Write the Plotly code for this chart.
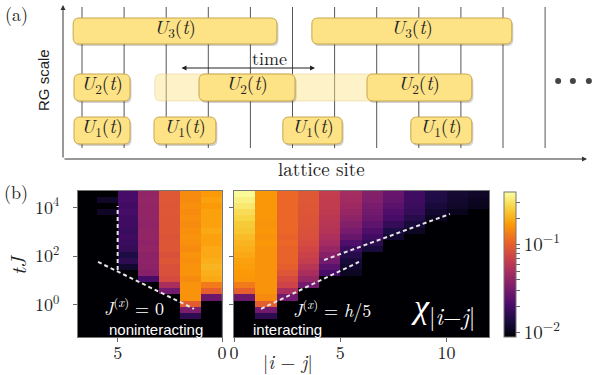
import numpy as np
import plotly.graph_objects as go

# ---------------- panel (b) data ----------------
B = 0.005  # below colour floor (black)
LOG_TJ = [-1.2, -0.95, -0.7, -0.45, -0.2, 0.05, 0.3, 0.55, 0.8, 1.05, 1.3, 1.55,
          1.8, 2.05, 2.3, 2.55, 2.8, 3.05, 3.3, 3.55, 3.8, 4.05, 4.3, 4.55]
X_NONINT = [0.5, 1.5, 2.5, 3.5, 4.5, 5.5, 6.5]
X_INT = [0.5, 1.5, 2.5, 3.5, 4.5, 5.5, 6.5, 7.5, 8.5, 9.5, 10.5, 11.5]

# columns (one per |i-j| cell), values from bottom (small tJ) to top (large tJ)
CHI_NONINT = [
    [B, B, B, B, B, B, 0.028, 0.10, 0.13, 0.19, 0.20, 0.21, 0.20, 0.19, 0.19, 0.18, 0.18, 0.19, 0.18, 0.18, 0.18, 0.17, 0.18, 0.17],
    [B, B, B, 0.016, 0.033, 0.097, 0.16, 0.16, 0.16, 0.15, 0.16, 0.16, 0.155, 0.16, 0.15, 0.155, 0.16, 0.155, 0.15, 0.155, 0.15, 0.155, 0.15, 0.15],
    [B, B, B, B, B, B, B, 0.03, 0.05, 0.08, 0.085, 0.085, 0.09, 0.085, 0.09, 0.09, 0.088, 0.09, 0.09, 0.09, 0.092, 0.09, 0.092, 0.092],
    [B, B, B, B, B, B, B, B, B, 0.02, 0.036, 0.038, 0.039, 0.038, 0.04, 0.039, 0.04, 0.04, 0.039, 0.04, 0.04, 0.04, 0.041, 0.04],
    [B, B, B, B, B, B, B, B, B, B, B, 0.012, 0.016, 0.014, 0.017, 0.018, 0.019, 0.018, 0.019, 0.019, 0.02, 0.019, 0.02, 0.02],
    [B, B, B, B, B, B, B, B, B, B, B, B, B, B, B, B, B, B, B, B, 0.0112, B, 0.0115, B],
    [B, B, B, B, B, B, B, B, B, B, B, B, B, B, B, B, B, B, B, B, B, B, B, B],
]
CHI_INT = [
    [B, B, B, B, B, B, 0.028, 0.10, 0.13, 0.165, 0.17, 0.175, 0.18, 0.19, 0.20, 0.21, 0.22, 0.24, 0.25, 0.27, 0.29, 0.32, 0.35, 0.38],
    [B, B, B, 0.016, 0.03, 0.10, 0.15, 0.16, 0.16, 0.16, 0.16, 0.16, 0.16, 0.16, 0.16, 0.165, 0.16, 0.165, 0.16, 0.165, 0.165, 0.165, 0.165, 0.165],
    [B, B, B, B, B, B, 0.03, 0.05, 0.072, 0.08, 0.09, 0.10, 0.105, 0.105, 0.105, 0.11, 0.105, 0.11, 0.11, 0.11, 0.11, 0.11, 0.11, 0.11],
    [B, B, B, B, B, B, B, B, 0.03, 0.042, 0.05, 0.058, 0.065, 0.07, 0.075, 0.08, 0.083, 0.085, 0.087, 0.088, 0.09, 0.09, 0.092, 0.092],
    [B, B, B, B, B, B, B, B, B, B, 0.02, 0.024, 0.03, 0.036, 0.042, 0.048, 0.052, 0.056, 0.058, 0.06, 0.062, 0.064, 0.064, 0.065],
    [B, B, B, B, B, B, B, B, B, B, 0.011, 0.012, 0.013, 0.015, 0.018, 0.022, 0.027, 0.031, 0.035, 0.039, 0.042, 0.045, 0.047, 0.048],
    [B, B, B, B, B, B, B, B, B, B, B, B, B, B, 0.013, 0.016, 0.019, 0.022, 0.025, 0.028, 0.03, 0.032, 0.034, 0.035],
    [B, B, B, B, B, B, B, B, B, B, B, B, B, B, B, B, 0.012, 0.014, 0.017, 0.02, 0.022, 0.024, 0.026, 0.027],
    [B, B, B, B, B, B, B, B, B, B, B, B, B, B, B, B, B, 0.011, 0.013, 0.015, 0.017, 0.018, 0.019, 0.019],
    [B, B, B, B, B, B, B, B, B, B, B, B, B, B, B, B, B, B, B, 0.011, 0.012, 0.013, 0.014, 0.0145],
    [B, B, B, B, B, B, B, B, B, B, B, B, B, B, B, B, B, B, B, B, 0.0105, 0.0115, 0.012, 0.0125],
    [B, B, B, B, B, B, B, B, B, B, B, B, B, B, B, B, B, B, B, B, B, 0.0105, 0.011, 0.0115],
]
# dashed guide lines (x = |i-j|, y = log10 tJ)
GUIDES_NONINT = [([5.0, 5.0], [1.43, 4.06]), ([5.94, 1.34], [1.76, -0.17])]
GUIDES_INT = [([4.24, 10.16], [1.84, 3.73]), ([1.27, 5.88], [-0.17, 1.76])]

CB_MIN, CB_MAX = -2.05, -0.4
CB_MAJOR = [0.01, 0.1]
CB_MINOR = [0.02, 0.03, 0.04, 0.05, 0.06, 0.07, 0.08, 0.09, 0.2, 0.3]

# ---------------- panel (a) schematic ----------------
SITES = [0, 1, 2, 3, 4, 5, 6, 7, 8, 9, 10, 11]
U3_SPANS = [(-0.21, 4.63), (5.46, 10.21)]
U2_SPANS = [(-0.19, 1.14), (2.78, 5.06), (6.77, 9.26)]
U2_GHOST = (1.73, 7.2)
U1_SPANS = [(-0.19, 1.14), (1.71, 3.18), (4.77, 6.18), (7.81, 9.26)]
LEVEL_Y = {3: (18, 44), 2: (74, 101), 1: (117, 144)}
DOTS_X = [11.31, 11.66, 12.04]

W, H = 600, 375
SITE0, SITE_STEP = 82, 42.1


def px(x):
    return x / W


def py(y):
    return 1 - y / H


SERIF = "Latin Modern Roman"
SANS = "Liberation Sans"
LM_SHIFT = 0.12  # Latin Modern sits slightly low in its line box

fig = go.Figure()

zL = np.log10(np.array(CHI_NONINT).T)
zR = np.log10(np.array(CHI_INT).T)
fig.add_trace(go.Heatmap(x=X_NONINT, y=LOG_TJ, z=zL, coloraxis="coloraxis",
                         xaxis="x", yaxis="y", hoverinfo="skip"))
fig.add_trace(go.Heatmap(x=X_INT, y=LOG_TJ, z=zR, coloraxis="coloraxis",
                         xaxis="x2", yaxis="y2", hoverinfo="skip"))

dash = dict(color="#e6e6e6", width=2, dash="4px,3px")
for gx, gy in GUIDES_NONINT:
    fig.add_trace(go.Scatter(x=gx, y=gy, mode="lines", line=dash, xaxis="x", yaxis="y",
                             showlegend=False, hoverinfo="skip"))
for gx, gy in GUIDES_INT:
    fig.add_trace(go.Scatter(x=gx, y=gy, mode="lines", line=dash, xaxis="x2", yaxis="y2",
                             showlegend=False, hoverinfo="skip"))

fig.add_trace(go.Scatter(x=DOTS_X, y=[81, 81, 81], mode="markers",
                         marker=dict(size=6, color="#444"), xaxis="x3", yaxis="y3",
                         showlegend=False, hoverinfo="skip"))

shapes = []
for s in SITES:
    shapes.append(dict(type="line", xref="x3", yref="y3", x0=s, x1=s, y0=7, y1=148,
                       line=dict(color="#555", width=1), layer="above"))


def rrect(x0, x1, y0, y1, r_px=6):
    rx = r_px / SITE_STEP
    ry = r_px
    return (f"M {x0+rx},{y0} L {x1-rx},{y0} Q {x1},{y0} {x1},{y0+ry} "
            f"L {x1},{y1-ry} Q {x1},{y1} {x1-rx},{y1} L {x0+rx},{y1} "
            f"Q {x0},{y1} {x0},{y1-ry} L {x0},{y0+ry} Q {x0},{y0} {x0+rx},{y0} Z")


BOX_FILL = "#fde286"
BOX_LINE = "#c9a64c"
g0, g1 = U2_GHOST
y0, y1 = LEVEL_Y[2]
shapes.append(dict(type="path", xref="x3", yref="y3", path=rrect(g0, g1, y0, y1),
                   fillcolor="rgba(253,226,134,0.45)", line=dict(color="rgba(215,185,100,0.35)", width=1)))

annotations = []
BOX_FONT = 19
for level, spans in [(3, U3_SPANS), (2, U2_SPANS), (1, U1_SPANS)]:
    y0, y1 = LEVEL_Y[level]
    for a, b in spans:
        dx = 1.5 / SITE_STEP
        shapes.append(dict(type="path", xref="x3", yref="y3",
                           path=rrect(a + dx, b + dx, y0 + 2, y1 + 2),
                           fillcolor="rgba(0,0,0,0.18)", line=dict(width=0)))
        shapes.append(dict(type="path", xref="x3", yref="y3", path=rrect(a, b, y0, y1),
                           fillcolor=BOX_FILL, line=dict(color=BOX_LINE, width=1)))
        annotations.append(dict(x=(a + b) / 2, y=(y0 + y1) / 2, xref="x3", yref="y3",
                                text=f"<i>U</i><sub>{level}</sub>(<i>t</i>)", showarrow=False,
                                yshift=round(LM_SHIFT * BOX_FONT) + 2,
                                font=dict(family=SERIF, size=BOX_FONT, color="#222")))

ax_x = (63 - SITE0) / SITE_STEP
annotations.append(dict(x=(587 - SITE0) / SITE_STEP, y=159, ax=ax_x, ay=159, xref="x3", yref="y3",
                        axref="x3", ayref="y3", text="", showarrow=True, arrowhead=2,
                        arrowsize=1, arrowwidth=1, arrowcolor="#333"))
annotations.append(dict(x=ax_x, y=5, ax=ax_x, ay=159, xref="x3", yref="y3",
                        axref="x3", ayref="y3", text="", showarrow=True, arrowhead=2,
                        arrowsize=1, arrowwidth=1, arrowcolor="#333"))
annotations.append(dict(x=(315 - SITE0) / SITE_STEP, y=68, ax=(180 - SITE0) / SITE_STEP, ay=68,
                        xref="x3", yref="y3", axref="x3", ayref="y3", text="", showarrow=True,
                        arrowhead=2, arrowside="end+start", arrowsize=1, arrowwidth=1,
                        arrowcolor="#222"))


def label(text, x, y, size, family=SERIF, color="#222", angle=0):
    sh = round(LM_SHIFT * size) if family == SERIF else 0
    annotations.append(dict(x=px(x), y=py(y), xref="paper", yref="paper", text=text,
                            showarrow=False, textangle=angle,
                            yshift=sh if angle == 0 else 0,
                            xshift=-sh if angle != 0 else 0,
                            font=dict(family=family, size=size, color=color),
                            xanchor="center", yanchor="middle"))


label("(a)", 16, 16, 18)
label("RG scale", 43, 80, 15, SANS, angle=-90)
label("lattice site", 321, 170, 19)
label("time", 269, 59, 18)
label("(b)", 16, 193, 18)
label("<i>tJ</i>", 20, 265, 21, angle=-90)
label("|<i>i</i> − <i>j</i>|", 288, 363, 19)
label("<i>J</i><sup>(<i>x</i>)</sup> = 0", 134, 308, 18, color="white")
label("noninteracting", 156, 329, 15, SANS, color="white")
label("<i>J</i><sup>(<i>x</i>)</sup> = <i>h</i>/5", 332, 310, 18, color="white")
label("interacting", 287, 329, 15, SANS, color="white")
label("<i>χ</i><sub>|<i>i</i>−<i>j</i>|</sub>", 443, 310, 34, color="white")

tickfont = dict(family=SERIF, size=18, color="#222")
frame = dict(showline=True, mirror=True, linecolor="#777", linewidth=1, showgrid=False,
             zeroline=False, ticks="outside", ticklen=4, tickcolor="#666", tickfont=tickfont,
             automargin=False)
ydom = [py(337), py(191)]

cb_vals = [float(np.log10(v)) for v in CB_MAJOR + CB_MINOR]
cb_text = ["10<sup>−2</sup>", "10<sup>−1</sup>"] + [""] * len(CB_MINOR)

fig.update_layout(
    width=W, height=H, autosize=False,
    margin=dict(l=0, r=0, t=0, b=0, pad=0, autoexpand=False),
    paper_bgcolor="white", plot_bgcolor="rgba(0,0,0,0)",
    showlegend=False,
    font=dict(family=SERIF),
    xaxis=dict(domain=[px(78), px(222)], range=[6.9, 0], anchor="y",
               tickvals=[0, 5], ticktext=["0", "5"], ticklabelstandoff=-5, **frame),
    yaxis=dict(domain=ydom, range=[-1.325, 4.675], anchor="x",
               tickvals=[0, 2, 4], ticktext=["10<sup>0</sup>", "10<sup>2</sup>", "10<sup>4</sup>"],
               ticklabelstandoff=10, **frame),
    xaxis2=dict(domain=[px(234), px(489)], range=[0, 12], anchor="y2",
                tickvals=[0, 5, 10], ticktext=["0", "5", "10"], ticklabelstandoff=-5, **frame),
    yaxis2=dict(domain=ydom, range=[-1.325, 4.675], anchor="x2", tickvals=[0, 2, 4],
                showticklabels=False, **frame),
    xaxis3=dict(domain=[0, 1], range=[-SITE0 / SITE_STEP, (W - SITE0) / SITE_STEP],
                anchor="y3", visible=False, automargin=False),
    yaxis3=dict(domain=[0, 1], range=[H, 0], anchor="x3", visible=False, automargin=False),
    coloraxis=dict(colorscale="Inferno", cmin=CB_MIN, cmax=CB_MAX,
                   colorbar=dict(x=px(504), xanchor="left", y=py(192), yanchor="top",
                                 len=145 / H, lenmode="fraction", thickness=12,
                                 xpad=0, ypad=0, outlinewidth=1, outlinecolor="#777",
                                 tickvals=cb_vals, ticktext=cb_text, ticks="outside",
                                 ticklen=4, tickcolor="#666",
                                 tickfont=dict(family=SERIF, size=19, color="#222"))),
    shapes=shapes,
    annotations=annotations,
)

fig.write_html("out.html", config={"displayModeBar": False},
               post_script="document.body.style.margin='0';document.body.style.padding='0';")
